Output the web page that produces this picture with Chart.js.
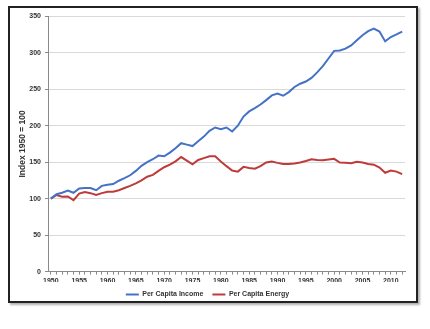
<!DOCTYPE html>
<html lang="en">
<head>
    <meta charset="UTF-8">
    <title>Per Capita Income and Energy</title>
    <script src="https://cdn.jsdelivr.net/npm/chart.js@4.4.1/dist/chart.umd.min.js"></script>
    <style>
        html, body { margin: 0; padding: 0; background: #fff; }
        .frame {
            position: absolute;
            left: 8px; top: 6px;
            width: 410px; height: 297px;
            box-sizing: border-box;
            border: 2px solid #222;
            box-shadow: 2px 2px 2px #b0b0b0;
            background: #fff;
            overflow: hidden;
        }
        .frame canvas { display: block; }
    </style>
</head>
<body>
    <div class="frame">
        <canvas id="chart" width="406" height="300"></canvas>
    </div>

    <script>
        const years = [
            '1950', '1951', '1952', '1953', '1954', '1955', '1956', '1957', '1958', '1959',
            '1960', '1961', '1962', '1963', '1964', '1965', '1966', '1967', '1968', '1969',
            '1970', '1971', '1972', '1973', '1974', '1975', '1976', '1977', '1978', '1979',
            '1980', '1981', '1982', '1983', '1984', '1985', '1986', '1987', '1988', '1989',
            '1990', '1991', '1992', '1993', '1994', '1995', '1996', '1997', '1998', '1999',
            '2000', '2001', '2002', '2003', '2004', '2005', '2006', '2007', '2008', '2009',
            '2010', '2011', '2012'
        ];

        const perCapitaIncome = [
            100, 106, 108, 111, 108, 114, 114.5, 114.5, 111.5, 117.5,
            119, 120, 124.5, 128, 132, 138, 145, 150, 154, 159,
            158, 163, 169, 176, 174, 172, 178.5, 185, 193, 197.5,
            195, 197.5, 192, 200, 212.5, 219.5, 224, 229, 235, 241.5,
            244, 241, 246, 253, 257.5, 260.5, 265.5, 273, 281.5, 292,
            302.5, 303, 305.5, 310, 317, 324, 329.5, 333, 329, 315.5,
            321.5, 325, 329
        ];

        const perCapitaEnergy = [
            100, 105, 102.5, 103, 98, 107, 109, 107.5, 105, 107.5,
            109.5, 109.5, 111.5, 114.5, 117.5, 121, 125, 130, 132.5, 138,
            143, 146.5, 151, 157, 152, 147, 153, 155.5, 158, 158,
            151, 144.5, 138.5, 137, 143.5, 142, 141, 144.5, 149.5, 151,
            149, 147.5, 147.5, 148, 149.5, 151.5, 154, 153, 152.5, 153.5,
            154.5, 149.5, 149, 148.5, 150.5, 149.5, 147.5, 146.5, 142.5, 135.5,
            138.5, 137, 133.5
        ];

        const yTicks = { min: 0, max: 350, step: 50 };

        const textColor = '#333';
        const axisColor = '#8a8a8a';
        const font = { family: 'Arial, "Liberation Sans", sans-serif', size: 7, weight: 'bold' };

        new Chart(document.getElementById('chart'), {
            type: 'line',
            data: {
                labels: years,
                datasets: [
                    {
                        label: 'Per Capita Income',
                        data: perCapitaIncome,
                        borderColor: '#4472c4',
                        backgroundColor: '#4472c4',
                        borderWidth: 2,
                        pointRadius: 0,
                        tension: 0
                    },
                    {
                        label: 'Per Capita Energy',
                        data: perCapitaEnergy,
                        borderColor: '#be3b3b',
                        backgroundColor: '#be3b3b',
                        borderWidth: 2,
                        pointRadius: 0,
                        tension: 0
                    }
                ]
            },
            options: {
                responsive: false,
                animation: false,
                layout: { padding: { top: 1, right: 11, left: 0, bottom: 0 } },
                plugins: {
                    tooltip: { enabled: false },
                    legend: {
                        position: 'bottom',
                        labels: {
                            color: textColor,
                            font,
                            boxWidth: 13,
                            boxHeight: 2,
                            padding: 9,
                            generateLabels(chart) {
                                return Chart.defaults.plugins.legend.labels.generateLabels(chart)
                                    .map(l => Object.assign(l, { lineWidth: 0 }));
                            }
                        }
                    }
                },
                scales: {
                    x: {
                        offset: true,
                        afterFit(scale) { scale.height -= 5; },
                        grid: {
                            drawOnChartArea: false,
                            drawTicks: true,
                            tickLength: 3,
                            tickColor: axisColor
                        },
                        border: { color: axisColor, width: 1 },
                        ticks: {
                            autoSkip: false,
                            maxRotation: 0,
                            padding: 2,
                            color: textColor,
                            font,
                            callback(value) {
                                const y = this.getLabelForValue(value);
                                return Number(y) % 5 === 0 ? y : '';
                            }
                        }
                    },
                    y: {
                        min: yTicks.min,
                        max: yTicks.max,
                        afterFit(scale) { scale.width = 38; },
                        grid: {
                            color: '#d9d9d9',
                            tickLength: 3,
                            tickColor: axisColor
                        },
                        border: { color: axisColor, width: 1 },
                        ticks: {
                            stepSize: yTicks.step,
                            padding: 4,
                            color: textColor,
                            font
                        },
                        title: {
                            display: true,
                            text: 'Index 1950 = 100',
                            color: textColor,
                            font: { ...font, size: 8.5 },
                            padding: { top: 8, bottom: 0 }
                        }
                    }
                }
            }
        });
    </script>
</body>
</html>
